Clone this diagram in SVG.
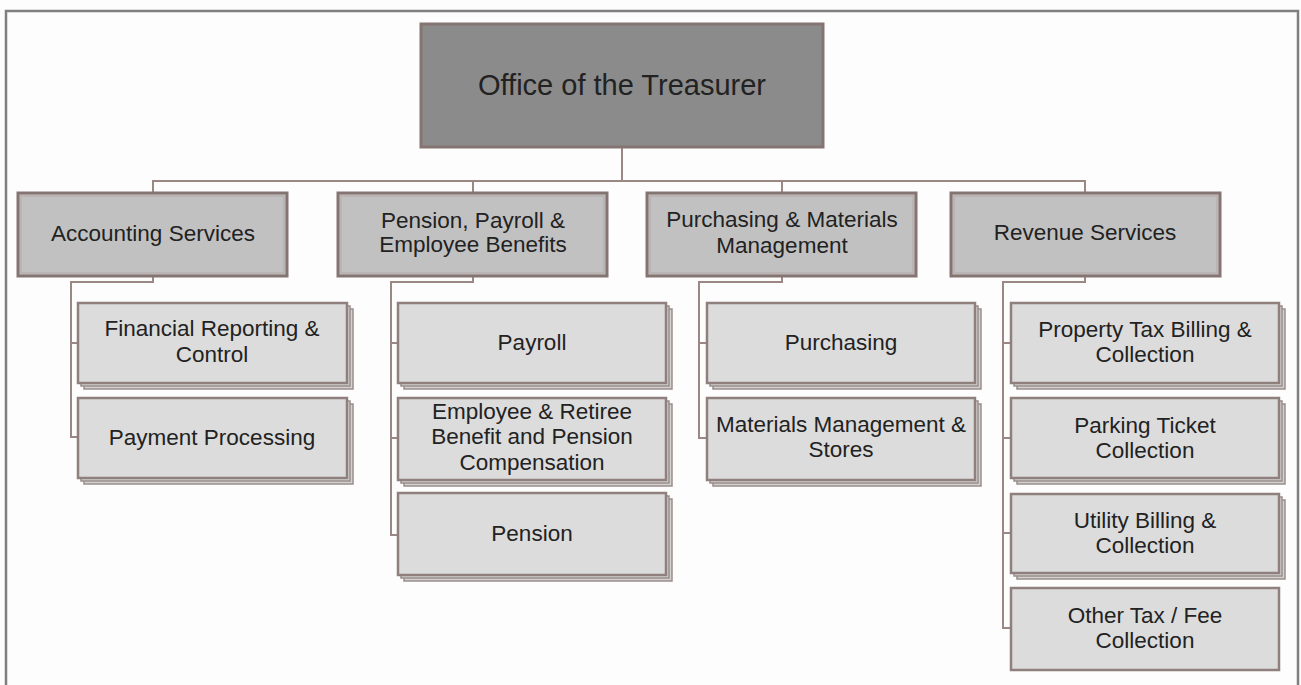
<svg xmlns="http://www.w3.org/2000/svg" width="1301" height="685" viewBox="0 0 1301 685">
<style>
.frame{fill:none;stroke:#808080;stroke-width:2.5}
.conn{fill:none;stroke:#9b8884;stroke-width:2}
.top{fill:#8b8b8b;stroke:#857572;stroke-width:3}
.mid{fill:#c1c1c1;stroke:#857572;stroke-width:3}
.inner{fill:none;stroke:#b3a9a7;stroke-width:1}
.child{fill:#dcdcdc;stroke:#8f807d;stroke-width:2.5}
.sh{fill:#d2d2d2;stroke:#9a8d8a;stroke-width:1.5}
text{font-family:"Liberation Sans",Arial,sans-serif;fill:#222;text-anchor:middle}
.t1{font-size:29px}
.t2{font-size:22.5px}
</style>
<rect x="0" y="0" width="1301" height="685" fill="#fdfdfd"/>
<path class="frame" d="M6,685 V11 H1298 V685"/>
<g id="connectors">
<path class="conn" d="M622,147 V181"/>
<path class="conn" d="M153,193 V181 H1085 V194"/>
<path class="conn" d="M473,181 V193"/>
<path class="conn" d="M782,181 V194"/>
<path class="conn" d="M153,276 V282 H71 V437 H78 M71,343 H78"/>
<path class="conn" d="M473,276 V282 H391 V535 H398 M391,343 H398 M391,438 H398"/>
<path class="conn" d="M782,276 V282 H699 V438 H707 M699,343 H707"/>
<path class="conn" d="M1085,276 V282 H1003 V628 H1011 M1003,343 H1011 M1003,438 H1011 M1003,533 H1011"/>
</g>
<g id="n-treasurer">
<rect class="top" x="421" y="24" width="402" height="123"/>
<text class="t1" x="622" y="95">Office of the Treasurer</text>
</g>
<g id="n-accounting">
<rect class="mid" x="18" y="193" width="269" height="83"/>
<rect class="inner" x="21" y="196" width="263" height="77"/>
<text class="t2" x="153" y="241">Accounting Services</text>
</g>
<g id="n-pension-main">
<rect class="mid" x="338" y="193" width="269" height="83"/>
<rect class="inner" x="341" y="196" width="263" height="77"/>
<text class="t2" x="473" y="228">Pension, Payroll &amp;</text>
<text class="t2" x="473" y="252">Employee Benefits</text>
</g>
<g id="n-purchasing-main">
<rect class="mid" x="647" y="193" width="269" height="83"/>
<rect class="inner" x="650" y="196" width="263" height="77"/>
<text class="t2" x="782" y="227">Purchasing &amp; Materials</text>
<text class="t2" x="782" y="253">Management</text>
</g>
<g id="n-revenue">
<rect class="mid" x="951" y="193" width="269" height="83"/>
<rect class="inner" x="954" y="196" width="263" height="77"/>
<text class="t2" x="1085" y="240">Revenue Services</text>
</g>
<g id="n-financial">
<rect class="sh" x="84" y="309" width="269" height="80"/>
<rect class="sh" x="81" y="306" width="269" height="80"/>
<rect class="child" x="78" y="303" width="269" height="80"/>
<text class="t2" x="212" y="336">Financial Reporting &amp;</text>
<text class="t2" x="212" y="362">Control</text>
</g>
<g id="n-payment">
<rect class="sh" x="84" y="404" width="269" height="80"/>
<rect class="sh" x="81" y="401" width="269" height="80"/>
<rect class="child" x="78" y="398" width="269" height="80"/>
<text class="t2" x="212" y="445">Payment Processing</text>
</g>
<g id="n-payroll">
<rect class="sh" x="404" y="309" width="268" height="80"/>
<rect class="sh" x="401" y="306" width="268" height="80"/>
<rect class="child" x="398" y="303" width="268" height="80"/>
<text class="t2" x="532" y="350">Payroll</text>
</g>
<g id="n-employee">
<rect class="sh" x="404" y="404" width="268" height="82"/>
<rect class="sh" x="401" y="401" width="268" height="82"/>
<rect class="child" x="398" y="398" width="268" height="82"/>
<text class="t2" x="532" y="419">Employee &amp; Retiree</text>
<text class="t2" x="532" y="444">Benefit and Pension</text>
<text class="t2" x="532" y="470">Compensation</text>
</g>
<g id="n-pension">
<rect class="sh" x="404" y="499" width="268" height="82"/>
<rect class="sh" x="401" y="496" width="268" height="82"/>
<rect class="child" x="398" y="493" width="268" height="82"/>
<text class="t2" x="532" y="541">Pension</text>
</g>
<g id="n-purchasing">
<rect class="sh" x="713" y="309" width="268" height="80"/>
<rect class="sh" x="710" y="306" width="268" height="80"/>
<rect class="child" x="707" y="303" width="268" height="80"/>
<text class="t2" x="841" y="350">Purchasing</text>
</g>
<g id="n-materials">
<rect class="sh" x="713" y="404" width="268" height="82"/>
<rect class="sh" x="710" y="401" width="268" height="82"/>
<rect class="child" x="707" y="398" width="268" height="82"/>
<text class="t2" x="841" y="432">Materials Management &amp;</text>
<text class="t2" x="841" y="457">Stores</text>
</g>
<g id="n-property">
<rect class="sh" x="1017" y="309" width="268" height="80"/>
<rect class="sh" x="1014" y="306" width="268" height="80"/>
<rect class="child" x="1011" y="303" width="268" height="80"/>
<text class="t2" x="1145" y="337">Property Tax Billing &amp;</text>
<text class="t2" x="1145" y="362">Collection</text>
</g>
<g id="n-parking">
<rect class="sh" x="1017" y="404" width="268" height="80"/>
<rect class="sh" x="1014" y="401" width="268" height="80"/>
<rect class="child" x="1011" y="398" width="268" height="80"/>
<text class="t2" x="1145" y="433">Parking Ticket</text>
<text class="t2" x="1145" y="458">Collection</text>
</g>
<g id="n-utility">
<rect class="sh" x="1017" y="500" width="268" height="79"/>
<rect class="sh" x="1014" y="497" width="268" height="79"/>
<rect class="child" x="1011" y="494" width="268" height="79"/>
<text class="t2" x="1145" y="528">Utility Billing &amp;</text>
<text class="t2" x="1145" y="553">Collection</text>
</g>
<g id="n-other">
<rect class="child" x="1011" y="588" width="268" height="82" stroke-width="2"/>
<text class="t2" x="1145" y="623">Other Tax / Fee</text>
<text class="t2" x="1145" y="648">Collection</text>
</g>
</svg>
